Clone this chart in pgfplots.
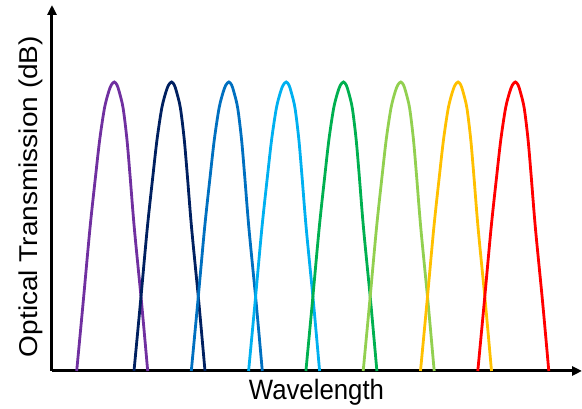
\documentclass[border=0pt]{standalone}
\usepackage{pgfplots}
\pgfplotsset{compat=1.18}
\usepackage{graphicx}
\usepackage{fontspec}
\setmainfont{Liberation Sans}
\usetikzlibrary{arrows.meta}

% Office-style channel colours
\definecolor{chPurple}{HTML}{7030A0}
\definecolor{chNavy}{HTML}{002060}
\definecolor{chBlue}{HTML}{0070C0}
\definecolor{chSky}{HTML}{00B0F0}
\definecolor{chGreen}{HTML}{00B050}
\definecolor{chLime}{HTML}{92D050}
\definecolor{chGold}{HTML}{FFC000}
\definecolor{chRed}{HTML}{FF0000}

\begin{document}
\begin{tikzpicture}
\begin{axis}[
  name=ax,
  x=1pt, y=1pt,
  xmin=52, xmax=582, ymin=0, ymax=366,
  axis lines=left,
  axis line style={line width=3pt, -{Triangle[length=10pt,width=9pt]}},
  ticks=none,
  clip=false,
  xlabel={\fontsize{28}{32}\selectfont\scalebox{0.92}[1]{Wavelength}},
  xlabel style={at={(axis description cs:0.499,-0.0792)}, anchor=base, inner sep=0pt},
  ylabel={\fontsize{28}{32}\selectfont\scalebox{1}[0.92]{Optical Transmission (dB)}},
  ylabel style={at={(axis description cs:-0.0274,0.4768)}, anchor=base, inner sep=0pt},
  every axis plot/.append style={line width=2.8pt, smooth, no markers},
]
% channel 1
\addplot[chPurple] coordinates {
 (76.7,0) (83.2,69) (90.0,143) (95.7,196) (99.8,232) (104.5,263) (108.6,279) (111.3,286) (114.3,289)
 (117.0,286) (119.3,279) (123.1,263) (126.9,232) (130.0,196) (134.3,143) (141.5,69) (147.7,0)};
% channel 2
\addplot[chNavy] coordinates {
 (134.0,0) (140.5,69) (147.3,143) (153.0,196) (157.1,232) (161.8,263) (165.9,279) (168.6,286) (171.6,289)
 (174.3,286) (176.6,279) (180.4,263) (184.2,232) (187.3,196) (191.6,143) (198.8,69) (205.0,0)};
% channel 3
\addplot[chBlue] coordinates {
 (191.3,0) (197.8,69) (204.6,143) (210.3,196) (214.4,232) (219.1,263) (223.2,279) (225.9,286) (228.9,289)
 (231.6,286) (233.9,279) (237.7,263) (241.5,232) (244.6,196) (248.9,143) (256.1,69) (262.3,0)};
% channel 4
\addplot[chSky] coordinates {
 (248.6,0) (255.1,69) (261.9,143) (267.6,196) (271.7,232) (276.4,263) (280.5,279) (283.2,286) (286.2,289)
 (288.9,286) (291.2,279) (295.0,263) (298.8,232) (301.9,196) (306.2,143) (313.4,69) (319.6,0)};
% channel 5
\addplot[chGreen] coordinates {
 (305.9,0) (312.4,69) (319.2,143) (324.9,196) (329.0,232) (333.7,263) (337.8,279) (340.5,286) (343.5,289)
 (346.2,286) (348.5,279) (352.3,263) (356.1,232) (359.2,196) (363.5,143) (370.7,69) (376.9,0)};
% channel 6
\addplot[chLime] coordinates {
 (363.2,0) (369.7,69) (376.5,143) (382.2,196) (386.3,232) (391.0,263) (395.1,279) (397.8,286) (400.8,289)
 (403.5,286) (405.8,279) (409.6,263) (413.4,232) (416.5,196) (420.8,143) (428.0,69) (434.2,0)};
% channel 7
\addplot[chGold] coordinates {
 (420.5,0) (427.0,69) (433.8,143) (439.5,196) (443.6,232) (448.3,263) (452.4,279) (455.1,286) (458.1,289)
 (460.8,286) (463.1,279) (466.9,263) (470.7,232) (473.8,196) (478.1,143) (485.3,69) (491.5,0)};
% channel 8
\addplot[chRed] coordinates {
 (477.8,0) (484.3,69) (491.1,143) (496.8,196) (500.9,232) (505.6,263) (509.7,279) (512.4,286) (515.4,289)
 (518.1,286) (520.4,279) (524.2,263) (528.0,232) (531.1,196) (535.4,143) (542.6,69) (548.8,0)};
\end{axis}
\pgfresetboundingbox
\path ([xshift=-52pt,yshift=-37.5pt]ax.south west) rectangle ([yshift=5pt]ax.north east);
\end{tikzpicture}
\end{document}
